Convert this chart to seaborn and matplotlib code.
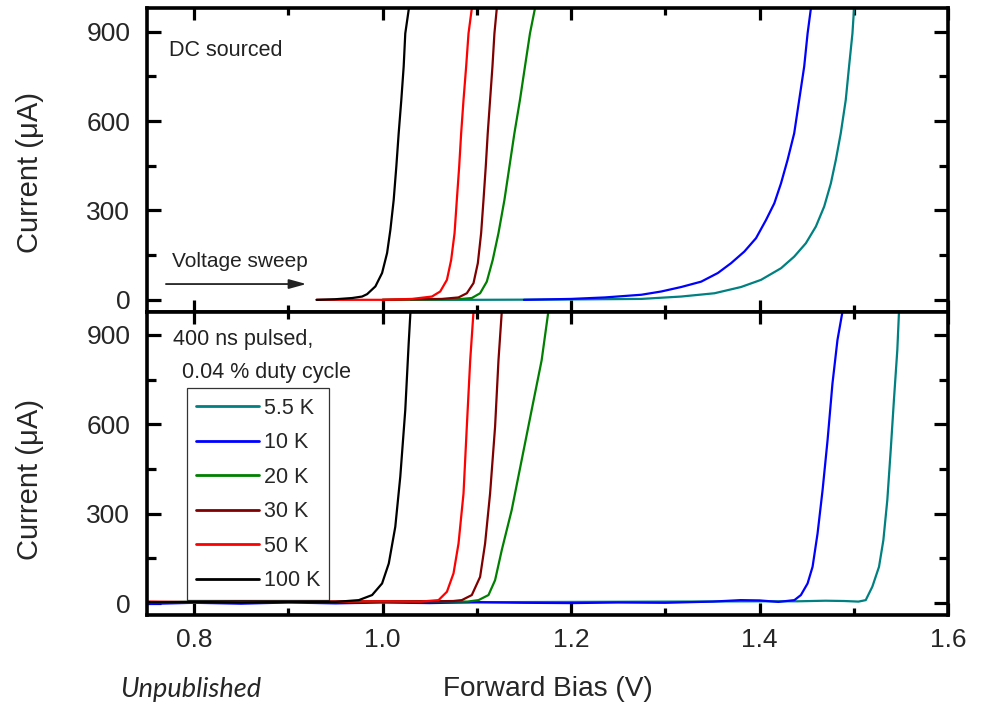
import numpy as np
import pandas as pd
import matplotlib
matplotlib.use("Agg")
import matplotlib.pyplot as plt
from matplotlib.ticker import MultipleLocator, FormatStrFormatter
import seaborn as sns

# Temperatures (legend order) and line colours
temps = ["5.5 K", "10 K", "20 K", "30 K", "50 K", "100 K"]
colors = ["#008080", "#0000FF", "#008000", "#800000", "#FF0000", "#000000"]

# ---- DC sourced I-V sweeps (V, uA) ----
dc_v_5p5 = [1.03, 1.10, 1.19, 1.2746, 1.3169, 1.3522, 1.3804, 1.4016, 1.4228,
            1.4368, 1.4492, 1.4598, 1.4686, 1.4757, 1.481, 1.4862, 1.4915,
            1.495, 1.4986, 1.5003, 1.5012]
dc_i_5p5 = [0, 0, 1, 3, 11, 22, 43, 67, 106, 145, 190, 246, 313, 391, 470, 559,
            671, 783, 894, 978, 1000]

dc_v_10 = [1.15, 1.20, 1.236, 1.2746, 1.2958, 1.3169, 1.3381, 1.3558, 1.3698,
           1.3839, 1.3963, 1.4069, 1.4157, 1.4228, 1.4298, 1.4368, 1.4421,
           1.4474, 1.451, 1.4545, 1.4555]
dc_i_10 = [0, 3, 8, 17, 28, 43, 61, 90, 123, 162, 207, 268, 324, 391, 470, 559,
           671, 783, 894, 978, 1000]

dc_v_20 = [1.00, 1.0806, 1.0947, 1.1035, 1.1106, 1.1169, 1.123, 1.1293, 1.1346,
           1.1399, 1.1458, 1.1511, 1.1564, 1.1617, 1.1623]
dc_i_20 = [0, 2, 6, 22, 61, 134, 224, 335, 447, 559, 671, 783, 894, 978, 1000]

dc_v_30 = [1.00, 1.063, 1.0806, 1.0894, 1.0965, 1.1011, 1.1046, 1.1071, 1.1095,
           1.1116, 1.1141, 1.1166, 1.1187, 1.1212, 1.1217]
dc_i_30 = [0, 3, 8, 22, 56, 123, 224, 335, 447, 559, 671, 783, 894, 978, 1000]

dc_v_50 = [0.93, 1.00, 1.0312, 1.0524, 1.0612, 1.0683, 1.0728, 1.0764, 1.0788,
           1.0813, 1.0834, 1.0859, 1.0887, 1.0912, 1.0947, 1.0953]
dc_i_50 = [0, 0, 3, 11, 28, 67, 134, 224, 335, 447, 559, 671, 783, 894, 978, 1000]

dc_v_100 = [0.93, 0.95, 0.9677, 0.9783, 0.9836, 0.9924, 0.9995, 1.0048, 1.0083,
            1.0118, 1.0146, 1.0171, 1.0199, 1.0224, 1.0241, 1.0277, 1.0282]
dc_i_100 = [0, 2, 6, 11, 19, 45, 90, 157, 235, 335, 447, 559, 671, 783, 894,
            973, 1000]

# ---- 400 ns pulsed I-V sweeps (V, uA) ----
pl_v_5p5 = [0.75, 0.80, 0.90, 1.00, 1.10, 1.20, 1.30, 1.40, 1.44, 1.47, 1.49,
            1.505, 1.5127, 1.5197, 1.5268, 1.5314, 1.5356, 1.5392, 1.5426,
            1.5462, 1.548, 1.549]
pl_i_5p5 = [2, 4, 3, 5, 3, 4, 5, 6, 6, 8, 7, 5, 10, 55, 122, 211, 346, 513, 681,
            849, 978, 1000]

pl_v_10 = [0.75, 0.80, 0.85, 0.90, 0.95, 1.00, 1.05, 1.10, 1.15, 1.20, 1.25,
           1.30, 1.35, 1.38, 1.40, 1.42, 1.437, 1.4439, 1.451, 1.4563, 1.4616,
           1.4669, 1.4722, 1.4774, 1.4827, 1.488, 1.489]
pl_i_10 = [-3, 1, -2, 2, -1, 2, 0, 3, 1, 0, 2, 1, 5, 10, 9, 4, 10, 27, 66, 122,
           234, 379, 547, 737, 883, 978, 1000]

pl_v_20 = [0.75, 0.85, 0.95, 1.05, 1.09, 1.1018, 1.1124, 1.1194, 1.1265, 1.137,
           1.1476, 1.1582, 1.1688, 1.1759, 1.177]
pl_i_20 = [3, 5, 4, 6, 5, 10, 27, 77, 178, 312, 480, 648, 815, 978, 1000]

pl_v_30 = [0.75, 0.85, 0.95, 1.05, 1.075, 1.0841, 1.0947, 1.1035, 1.1088, 1.1141,
           1.1194, 1.123, 1.1265, 1.127]
pl_i_30 = [4, 3, 5, 6, 7, 10, 27, 88, 200, 368, 592, 815, 978, 1000]

pl_v_50 = [0.75, 0.80, 0.85, 0.90, 0.95, 1.00, 1.04, 1.0594, 1.0683, 1.0753,
           1.0806, 1.0859, 1.0894, 1.093, 1.0965, 1.097]
pl_i_50 = [5, 3, 6, 4, 5, 6, 5, 10, 38, 100, 200, 368, 592, 815, 978, 1000]

pl_v_100 = [0.75, 0.80, 0.85, 0.90, 0.95, 0.9748, 0.9889, 0.9995, 1.0066, 1.0135,
            1.0188, 1.0241, 1.0277, 1.0295, 1.030]
pl_i_100 = [3, 4, 2, 4, 4, 10, 27, 66, 133, 256, 424, 648, 871, 972, 1000]

x_ticks = [0.8, 1.0, 1.2, 1.4, 1.6]
y_ticks = [0, 300, 600, 900]


def build_frame(pairs):
    rows = []
    for t, (v, i) in zip(temps, pairs):
        rows.append(pd.DataFrame({"V": v, "I": i, "T": t}))
    return pd.concat(rows, ignore_index=True)


dc = build_frame([(dc_v_5p5, dc_i_5p5), (dc_v_10, dc_i_10), (dc_v_20, dc_i_20),
                  (dc_v_30, dc_i_30), (dc_v_50, dc_i_50), (dc_v_100, dc_i_100)])
pulsed = build_frame([(pl_v_5p5, pl_i_5p5), (pl_v_10, pl_i_10), (pl_v_20, pl_i_20),
                      (pl_v_30, pl_i_30), (pl_v_50, pl_i_50), (pl_v_100, pl_i_100)])

sns.set_style("ticks")
plt.rcParams["font.family"] = ["Liberation Sans", "DejaVu Sans"]
plt.rcParams["axes.linewidth"] = 2.6

fig, (ax1, ax2) = plt.subplots(2, 1, sharex=True, figsize=(9.83, 7.04), dpi=100)
fig.subplots_adjust(left=0.1495, right=0.9644, top=0.988, bottom=0.1264, hspace=0)

palette = dict(zip(temps, colors))
sns.lineplot(data=dc, x="V", y="I", hue="T", hue_order=temps, palette=palette,
             sort=False, estimator=None, units="T", lw=1.6, legend=False, ax=ax1)
sns.lineplot(data=pulsed, x="V", y="I", hue="T", hue_order=temps, palette=palette,
             sort=False, estimator=None, units="T", lw=1.6, legend="full", ax=ax2)

for ax in (ax1, ax2):
    ax.set_xlim(0.75, 1.6)
    ax.set_ylim(-40, 978)
    ax.set_xticks(x_ticks)
    ax.xaxis.set_minor_locator(MultipleLocator(0.1))
    ax.set_yticks(y_ticks)
    ax.yaxis.set_minor_locator(MultipleLocator(150))
    ax.xaxis.set_major_formatter(FormatStrFormatter("%.1f"))
    ax.tick_params(which="both", direction="in", top=True, right=True,
                   width=2.3, labelsize=19, color="black")
    ax.tick_params(axis="x", which="major", length=8.5, pad=9)
    ax.tick_params(axis="x", which="minor", length=5)
    ax.tick_params(axis="y", which="major", length=10, pad=12)
    ax.tick_params(axis="y", which="minor", length=6.5)
    ax.set_ylabel("Current (\u03bcA)", fontsize=21)
    ax.set_xlabel("")
    for s in ax.spines.values():
        s.set_linewidth(2.6)
        s.set_color("black")

ax1.yaxis.set_label_coords(-0.128, 0.46)
ax2.yaxis.set_label_coords(-0.128, 0.448)
ax2.set_xlabel("Forward Bias (V)", fontsize=20.2)
ax2.xaxis.set_label_coords(0.5, -0.2)

# Panel annotations
ax1.text(0.0275, 0.862, "DC sourced", transform=ax1.transAxes, fontsize=15.5,
         va="center", ha="left", color="#222222")
ax1.text(0.031, 0.164, "Voltage sweep", transform=ax1.transAxes, fontsize=15,
         va="center", ha="left", color="#222222")
ax1.annotate("", xy=(0.199, 0.0913), xytext=(0.0237, 0.0913),
             xycoords="axes fraction", textcoords="axes fraction",
             arrowprops=dict(arrowstyle="-|>,head_length=0.8,head_width=0.22",
                             color="#222222", lw=1.3, mutation_scale=13,
                             shrinkA=0, shrinkB=0))
ax2.text(0.0325, 0.91, "400 ns pulsed,", transform=ax2.transAxes, fontsize=15.5,
         va="center", ha="left", color="#222222")
ax2.text(0.0433, 0.801, "0.04 % duty cycle", transform=ax2.transAxes, fontsize=15.5,
         va="center", ha="left", color="#222222")

old = ax2.get_legend()
handles = old.legend_handles
labels = [t.get_text() for t in old.get_texts()]
old.remove()
for h in handles:
    h.set_linewidth(2.0)
leg = ax2.legend(handles, labels, loc="upper left", bbox_to_anchor=(0.0496, 0.747),
                 borderaxespad=0, frameon=True, fancybox=False, edgecolor="black",
                 fontsize=15.5, handlelength=2.95, handletextpad=0.22,
                 labelspacing=0.63, borderpad=0.42)
leg.get_frame().set_linewidth(0.9)

fig.text(0.122, 0.02, "Unpublished", fontsize=19.5, style="italic",
         family=["Lato", "DejaVu Sans"], va="center", ha="left")

fig.savefig("out.png", dpi=100, facecolor="white")
